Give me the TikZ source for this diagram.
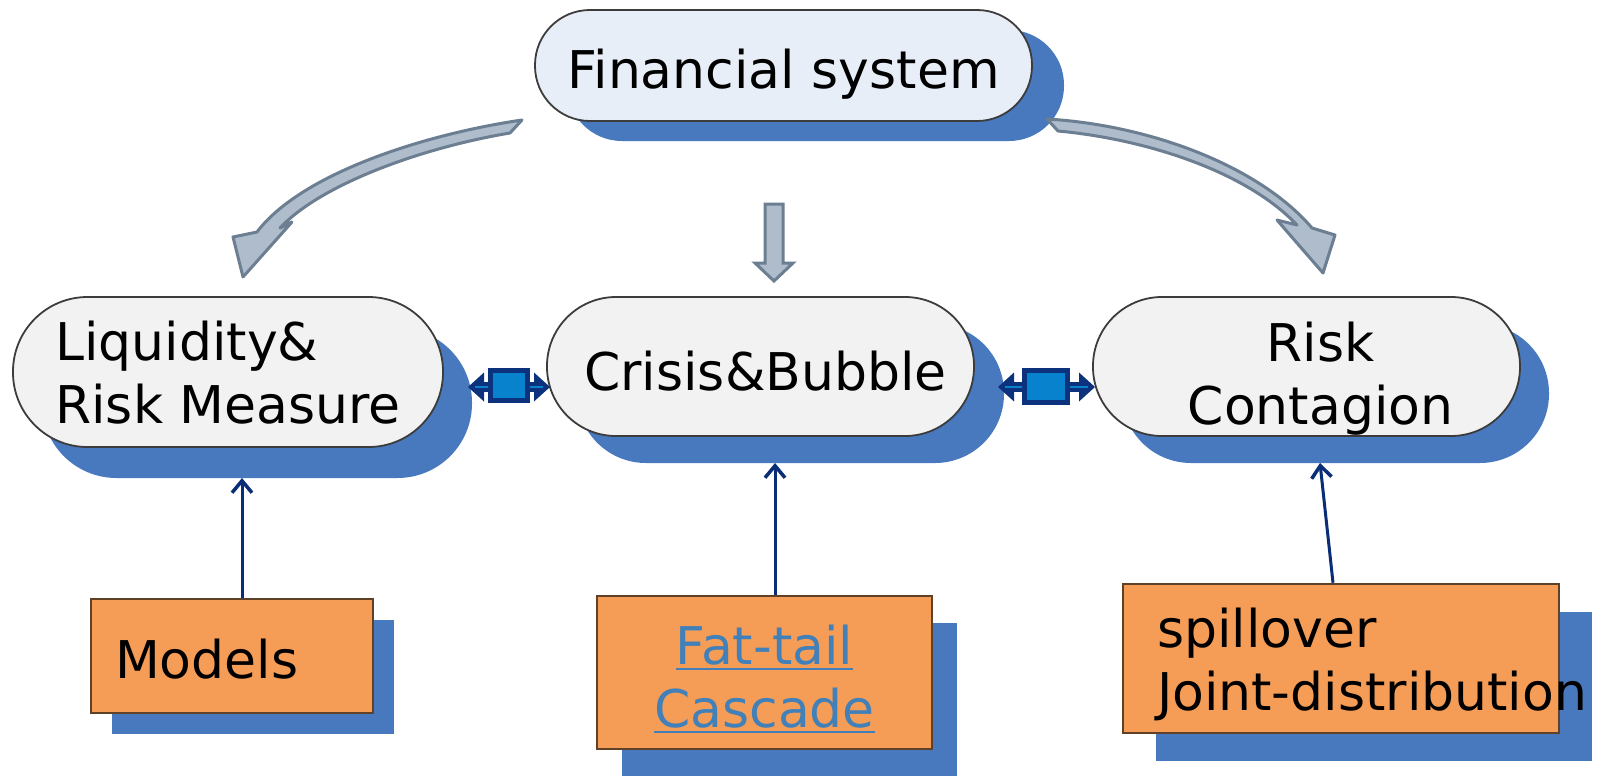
\documentclass[tikz,border=0pt]{standalone}
\usepackage{fontspec}
\setmainfont{DejaVu Sans}
\usetikzlibrary{shadows,arrows.meta}
\definecolor{shblue}{RGB}{72,121,190}
\definecolor{pillfill}{RGB}{242,242,242}
\definecolor{pilltop}{RGB}{232,238,247}
\definecolor{pillline}{RGB}{60,60,60}
\definecolor{boxfill}{RGB}{245,157,86}
\definecolor{boxline}{RGB}{95,65,40}
\definecolor{navy}{RGB}{10,45,120}
\definecolor{dnavy}{RGB}{12,50,125}
\definecolor{lblue}{RGB}{8,130,205}
\definecolor{arrline}{RGB}{107,126,146}
\definecolor{arrfill}{RGB}{174,188,203}
\definecolor{linkblue}{RGB}{65,128,185}
\newcommand\dfont{\fontsize{52}{63}\selectfont}
\newcommand\myul[1]{\setbox0\hbox{#1}\rlap{\rule[-6pt]{\wd0}{2.5pt}}\box0}
\begin{document}
\begin{tikzpicture}[x=1pt,y=-1pt,
  pill/.style={rectangle, rounded corners=#1, draw=pillline, line width=1.8pt, fill=pillfill, inner sep=0pt, font=\dfont},
  obox/.style={rectangle, draw=boxline, line width=2.5pt, fill=boxfill, inner ysep=0pt, font=\dfont},
  shad/.style 2 args={general shadow={draw=none, fill=shblue, shadow xshift=#1, shadow yshift=#2}},
  conn/.style={draw=navy, line width=3pt, -{Straight Barb[length=12pt,width=20pt,line width=3.5pt]}},
  barrow/.style={draw=arrline, fill=arrfill, line width=3pt, line join=round}]
\useasboundingbox (0,0) rectangle (1622,777);

% pills
\node[pill=55pt, fill=pilltop, minimum width=497pt, minimum height=111pt, text height=45pt, text depth=0pt, shad={32pt}{-20pt}] (fs) at (783.5,65.5) {Financial system};
\node[pill=74.5pt, minimum width=430pt, minimum height=150pt, align=left, text height=102pt, text depth=0pt, shad={29pt}{-31pt}] (liq) at (228,372) {Liquidity\&\\Risk Measure};
\node[pill=69pt, minimum width=427pt, minimum height=139pt, text height=47pt, text depth=0pt, shad={30pt}{-27pt}] (cri) at (760.5,366.5) {\hspace*{10pt}Crisis\&Bubble};
\node[pill=69pt, minimum width=427pt, minimum height=139pt, align=center, text height=115pt, text depth=0pt, shad={29pt}{-27pt}] (risk) at (1306.5,366.5) {\hspace*{28pt}Risk\\\hspace*{28pt}Contagion};

% boxes
\node[obox, minimum width=282pt, minimum height=114pt, text width=234pt, inner xsep=24pt, align=left, text height=44pt, text depth=0pt, shad={21pt}{-21pt}] (models) at (232,656) {Models};
\node[obox, minimum width=335pt, minimum height=153pt, align=center, text height=109pt, text depth=0pt, text=linkblue, shad={25pt}{-27pt}] (fat) at (764.5,672.5) {\myul{Fat-tail}\\\myul{Cascade}};
\node[obox, minimum width=436pt, minimum height=149pt, text width=368pt, inner xsep=34pt, align=left, text height=0pt, text depth=23pt, shad={33pt}{-28pt}] (spill) at (1341,658.5) {spillover\\\mbox{Joint-distribution}};

% connectors from boxes
\coordinate (tl) at (242,478);
\coordinate (tc) at (775,463);
\coordinate (tr) at (1320,463);
\coordinate (sr) at (1333,584);
\draw[conn] (models.north -| tl) -- (tl);
\draw[conn] (fat.north -| tc) -- (tc);
\draw[conn] (spill.north -| sr) -- (tr);

% double arrows
\draw[dnavy, line width=10pt] (482,387) -- (536,387);
\fill[dnavy] (468,387) -- (484,372.5) -- (484,401.5) -- cycle;
\fill[dnavy] (550,387) -- (534,372.5) -- (534,401.5) -- cycle;
\draw[lblue, line width=1.5pt] (475,387) -- (543,387);
\draw[dnavy, fill=lblue, line width=5pt] (490.5,370.5) rectangle (527.5,400.5);

\draw[dnavy, line width=10pt] (1012,387) -- (1081,387);
\fill[dnavy] (998,387) -- (1014,372.5) -- (1014,401.5) -- cycle;
\fill[dnavy] (1095,387) -- (1079,372.5) -- (1079,401.5) -- cycle;
\draw[lblue, line width=1.5pt] (1005,387) -- (1088,387);
\draw[dnavy, fill=lblue, line width=5pt] (1024.5,370.5) rectangle (1067.5,402.5);

% block arrows from the financial system
\draw[barrow] (522,120) .. controls (420,135) and (300,175) .. (257,232) -- (233,237) -- (243,277) -- (292,222) -- (280,228) .. controls (320,185) and (420,148) .. (510,133) -- cycle;
\draw[barrow, line join=miter] (765,204) -- (783,204) -- (783,263) -- (793,263) -- (774,281) -- (755,263) -- (765,263) -- cycle;
\draw[barrow] (1047,119) .. controls (1150,125) and (1259,166) .. (1312,228) -- (1335,235) -- (1323,273) -- (1277,220) -- (1297,225) .. controls (1246,171) and (1145,139) .. (1058,131) -- cycle;
\end{tikzpicture}
\end{document}
